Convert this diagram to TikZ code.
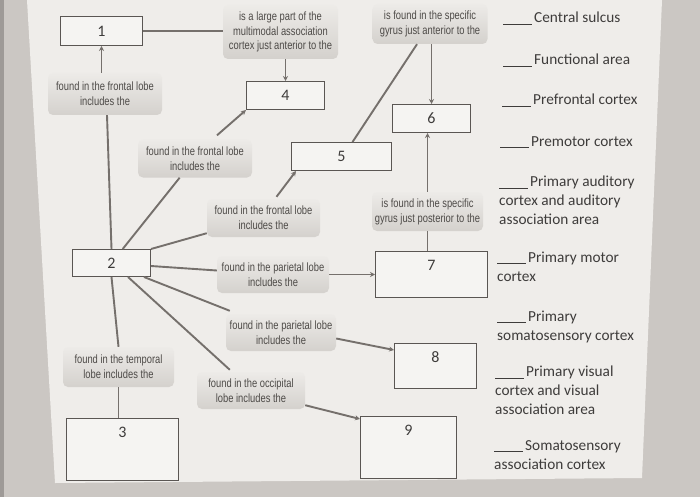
\documentclass[tikz,border=0pt]{standalone}
\usepackage{fontspec}
\setmainfont{Carlito}
\newfontfamily\lblfont[FakeStretch=0.78]{Liberation Sans}
\usetikzlibrary{positioning, arrows.meta, calc, backgrounds}
\definecolor{backdrop}{HTML}{CBC7C3}
\definecolor{darkstrip}{HTML}{9E9A97}
\definecolor{paper}{HTML}{EFEDEA}
\definecolor{linkgrey}{HTML}{75706C}
\definecolor{boxline}{HTML}{5A5653}
\definecolor{boxfill}{HTML}{F5F4F2}
\definecolor{lbltop}{HTML}{EDEBE8}
\definecolor{lblbot}{HTML}{D4D1CD}
\definecolor{lbltext}{HTML}{4D4A47}
\definecolor{listtext}{HTML}{3E3C3B}
\tikzset{
  numbox/.style   = {rectangle, draw=boxline, fill=boxfill, line width=1pt,
                     anchor=north west, inner sep=0pt, text=listtext,
                     font=\fontsize{16}{19}\selectfont},
  tallbox/.style  = {numbox, text height=19pt, text depth=#1},
  linkbox/.style  = {rectangle, rounded corners=5pt, top color=lbltop,
                     bottom color=lblbot, align=center, inner sep=0pt,
                     text=lbltext, font=\lblfont\fontsize{12}{14.8}\selectfont},
  maplink/.style  = {draw=linkgrey, line width=1.9pt},
  maparrow/.style = {maplink, -{Stealth[length=5pt,width=5pt]}},
  answer/.style   = {anchor=north west, align=left, inner sep=0pt,
                     text=listtext, font=\fontsize{15.3}{19}\selectfont},
}
\newcommand{\blank}{\rule[-1.5pt]{29pt}{0.8pt}\hspace{2pt}}

\begin{document}
\begin{tikzpicture}[x=1pt, y=-1pt]
  \useasboundingbox (0,0) rectangle (700,497);
  \begin{scope}[on background layer]
    \fill[backdrop] (0,0) rectangle (700,497);
    \fill[darkstrip] (0,0) rectangle (4,497);
    \fill[paper] (27,0) -- (662,0) -- (642,478) -- (55,483) -- cycle;
  \end{scope}

  % numbered boxes
  \node[numbox, minimum width=82pt, minimum height=29pt] (b1) at (60,16) {1};
  \node[numbox, minimum width=78pt, minimum height=28pt] (b4) at (246,81) {4};
  \node[numbox, minimum width=100pt, minimum height=28pt] (b5) at (291,142) {5};
  \node[numbox, minimum width=78pt, minimum height=28pt] (b6) at (392,104) {6};
  \node[numbox, minimum width=78pt, minimum height=27pt] (b2) at (72,249) {2};
  \node[tallbox=27pt, minimum width=112pt] (b7) at (375,251) {7};
  \node[tallbox=26pt, minimum width=82pt] (b8) at (394,343) {8};
  \node[tallbox=43pt, minimum width=96pt] (b9) at (360,416) {9};
  \node[tallbox=43pt, minimum width=112pt] (b3) at (66,418) {3};

  % linking phrases
  \node[linkbox, minimum width=115pt, minimum height=54pt] (multi) at (280.5,32)
        {is a large part of the\\multimodal association\\cortex just anterior to the};
  \node[linkbox, minimum width=115pt, minimum height=40pt] (antgyr) at (430,24)
        {is found in the specific\\gyrus just anterior to the};
  \node[linkbox, minimum width=114pt, minimum height=42pt] (front1) at (105,94)
        {found in the frontal lobe\\includes the};
  \node[linkbox, minimum width=114pt, minimum height=38pt] (front2) at (195,158.5)
        {found in the frontal lobe\\includes the};
  \node[linkbox, minimum width=113pt, minimum height=38pt] (front3) at (263.5,218)
        {found in the frontal lobe\\includes the};
  \node[linkbox, minimum width=111pt, minimum height=39pt] (postgyr) at (427.5,211.5)
        {is found in the specific\\gyrus just posterior to the};
  \node[linkbox, minimum width=112pt, minimum height=37pt] (par1) at (273,274.5)
        {found in the parietal lobe\\includes the};
  \node[linkbox, minimum width=110pt, minimum height=37pt] (par2) at (281,332.5)
        {found in the parietal lobe\\includes the};
  \node[linkbox, minimum width=108pt, minimum height=37pt] (occ) at (251,390.5)
        {found in the occipital\\lobe includes the};
  \node[linkbox, minimum width=111pt, minimum height=40pt] (temp) at (118.5,367)
        {found in the temporal\\lobe includes the};

  % answer list
  \node[answer] (csul) at (503,12) {\blank Central sulcus};
  \node[answer] (func) at (503,54) {\blank Functional area};
  \node[answer] (pref) at (502,94) {\blank Prefrontal cortex};
  \node[answer] (prem) at (500,136) {\blank Premotor cortex};
  \node[answer] (aud) at (499,176) {\blank Primary auditory\\cortex and auditory\\association area};
  \node[answer] (motor) at (497,252) {\blank Primary motor\\cortex};
  \node[answer] (soma) at (497,311) {\blank Primary\\somatosensory cortex};
  \node[answer] (vis) at (495,366) {\blank Primary visual\\cortex and visual\\association area};
  \node[answer] (sassoc) at (494,440) {\blank Somatosensory\\association cortex};

  \draw[maplink] (b1.east) -- (b1.east -| multi.west);
  \draw[maparrow] (b4.north |- multi.south) -- (b4.north);
  \draw[maparrow] (b1.south |- front1.north) -- (b1.south);
  \draw[maplink] ([xshift=2pt]front1.south) -- (b2.north);
  \draw[maplink] (b2) -- (front2);
  \draw[maparrow] ([xshift=22pt,yshift=4pt]front2.north) -- (b4.south west);
  \draw[maplink] (b2.north east) -- ([yshift=4pt]front3.south west);
  \draw[maparrow] ([xshift=13pt,yshift=2pt]front3.north) -- ([xshift=5pt]b5.south west);
  \draw[maplink] ([xshift=11pt]b5.north) -- ([xshift=-13pt]antgyr.south);
  \draw[maparrow] (b6.north |- antgyr.south) -- (b6.north);
  \draw[maparrow] (postgyr.north) -- (postgyr.north |- b6.south);
  \draw[maplink] (postgyr.south) -- (postgyr.south |- b7.north);
  \draw[maplink] ([yshift=-3pt]b2.east) -- ([yshift=4pt]par1.west);
  \draw[maparrow] (par1.east) -- (par1.east -| b7.west);
  \draw[maplink] ([xshift=-7pt]b2.south east) -- ([xshift=4pt,yshift=3pt]par2.north west);
  \draw[maparrow] ([yshift=-6pt]par2.east) -- ([yshift=-7pt]b8.north west);
  \draw[maplink] ([xshift=-23pt]b2.south east) -- ([xshift=33pt,yshift=2pt]occ.north west);
  \draw[maparrow] ([yshift=4pt]occ.south east) -- ([yshift=-3pt]b9.north west);
  \draw[maplink] (b2.south) -- (temp.north);
  \draw[maplink] (temp.south) -- (temp.south |- b3.north);
\end{tikzpicture}
\end{document}
